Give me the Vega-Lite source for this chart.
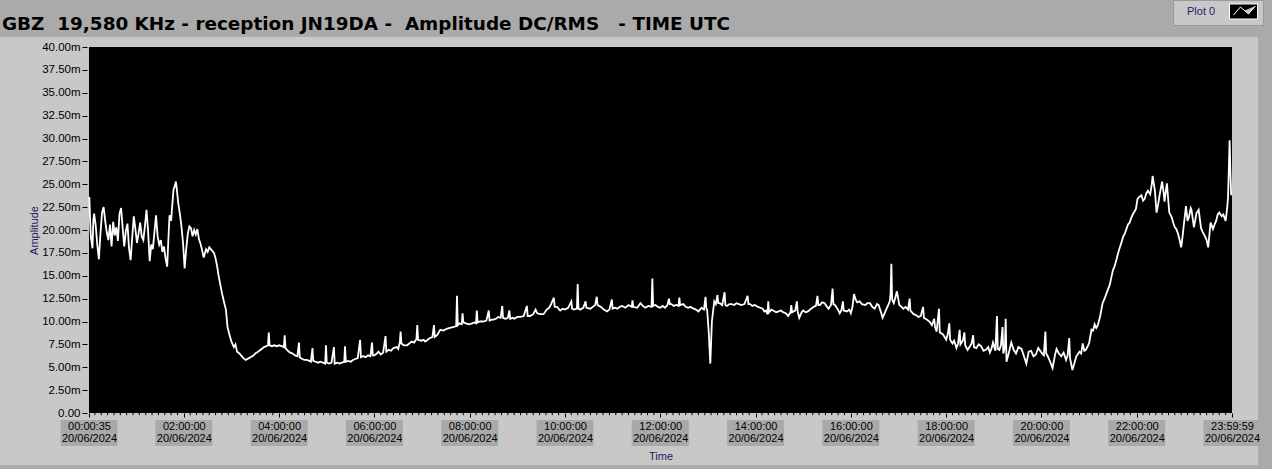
{
  "$schema": "https://vega.github.io/schema/vega-lite/v6.json",
  "width": 1143,
  "height": 366,
  "autosize": {"type": "none"},
  "padding": {"left": 89, "top": 47, "right": 40, "bottom": 56},
  "background": "#aaaaaa",
  "config": {"view": {"stroke": null}, "axis": {"grid": false}},
  "title": {
    "text": "GBZ\u00a0 19,580 KHz - reception JN19DA -\u00a0 Amplitude DC/RMS\u00a0\u00a0 - TIME UTC",
    "anchor": "start", "frame": "group", "font": "DejaVu Sans", "fontSize": 18.4, "fontWeight": "bold",
    "color": "#000000", "dx": -87, "offset": -49, "baseline": "alphabetic", "zindex": 1
  },
  "datasets": {
    "ticks": [
      {"t": "2024-06-20T00:00:35"}, {"t": "2024-06-20T02:00:00"}, {"t": "2024-06-20T04:00:00"},
      {"t": "2024-06-20T06:00:00"}, {"t": "2024-06-20T08:00:00"}, {"t": "2024-06-20T10:00:00"},
      {"t": "2024-06-20T12:00:00"}, {"t": "2024-06-20T14:00:00"}, {"t": "2024-06-20T16:00:00"},
      {"t": "2024-06-20T18:00:00"}, {"t": "2024-06-20T20:00:00"}, {"t": "2024-06-20T22:00:00"},
      {"t": "2024-06-20T23:59:59"}
    ],
    "minor": [
      {"t":"2024-06-20T00:08"},{"t":"2024-06-20T00:16"},{"t":"2024-06-20T00:24"},{"t":"2024-06-20T00:32"},{"t":"2024-06-20T00:40"},{"t":"2024-06-20T00:48"},{"t":"2024-06-20T00:56"},{"t":"2024-06-20T01:04"},{"t":"2024-06-20T01:12"},{"t":"2024-06-20T01:20"},{"t":"2024-06-20T01:28"},{"t":"2024-06-20T01:36"},{"t":"2024-06-20T01:44"},{"t":"2024-06-20T01:52"},
      {"t":"2024-06-20T02:08"},{"t":"2024-06-20T02:16"},{"t":"2024-06-20T02:24"},{"t":"2024-06-20T02:32"},{"t":"2024-06-20T02:40"},{"t":"2024-06-20T02:48"},{"t":"2024-06-20T02:56"},{"t":"2024-06-20T03:04"},{"t":"2024-06-20T03:12"},{"t":"2024-06-20T03:20"},{"t":"2024-06-20T03:28"},{"t":"2024-06-20T03:36"},{"t":"2024-06-20T03:44"},{"t":"2024-06-20T03:52"},
      {"t":"2024-06-20T04:08"},{"t":"2024-06-20T04:16"},{"t":"2024-06-20T04:24"},{"t":"2024-06-20T04:32"},{"t":"2024-06-20T04:40"},{"t":"2024-06-20T04:48"},{"t":"2024-06-20T04:56"},{"t":"2024-06-20T05:04"},{"t":"2024-06-20T05:12"},{"t":"2024-06-20T05:20"},{"t":"2024-06-20T05:28"},{"t":"2024-06-20T05:36"},{"t":"2024-06-20T05:44"},{"t":"2024-06-20T05:52"},
      {"t":"2024-06-20T06:08"},{"t":"2024-06-20T06:16"},{"t":"2024-06-20T06:24"},{"t":"2024-06-20T06:32"},{"t":"2024-06-20T06:40"},{"t":"2024-06-20T06:48"},{"t":"2024-06-20T06:56"},{"t":"2024-06-20T07:04"},{"t":"2024-06-20T07:12"},{"t":"2024-06-20T07:20"},{"t":"2024-06-20T07:28"},{"t":"2024-06-20T07:36"},{"t":"2024-06-20T07:44"},{"t":"2024-06-20T07:52"},
      {"t":"2024-06-20T08:08"},{"t":"2024-06-20T08:16"},{"t":"2024-06-20T08:24"},{"t":"2024-06-20T08:32"},{"t":"2024-06-20T08:40"},{"t":"2024-06-20T08:48"},{"t":"2024-06-20T08:56"},{"t":"2024-06-20T09:04"},{"t":"2024-06-20T09:12"},{"t":"2024-06-20T09:20"},{"t":"2024-06-20T09:28"},{"t":"2024-06-20T09:36"},{"t":"2024-06-20T09:44"},{"t":"2024-06-20T09:52"},
      {"t":"2024-06-20T10:08"},{"t":"2024-06-20T10:16"},{"t":"2024-06-20T10:24"},{"t":"2024-06-20T10:32"},{"t":"2024-06-20T10:40"},{"t":"2024-06-20T10:48"},{"t":"2024-06-20T10:56"},{"t":"2024-06-20T11:04"},{"t":"2024-06-20T11:12"},{"t":"2024-06-20T11:20"},{"t":"2024-06-20T11:28"},{"t":"2024-06-20T11:36"},{"t":"2024-06-20T11:44"},{"t":"2024-06-20T11:52"},
      {"t":"2024-06-20T12:08"},{"t":"2024-06-20T12:16"},{"t":"2024-06-20T12:24"},{"t":"2024-06-20T12:32"},{"t":"2024-06-20T12:40"},{"t":"2024-06-20T12:48"},{"t":"2024-06-20T12:56"},{"t":"2024-06-20T13:04"},{"t":"2024-06-20T13:12"},{"t":"2024-06-20T13:20"},{"t":"2024-06-20T13:28"},{"t":"2024-06-20T13:36"},{"t":"2024-06-20T13:44"},{"t":"2024-06-20T13:52"},
      {"t":"2024-06-20T14:08"},{"t":"2024-06-20T14:16"},{"t":"2024-06-20T14:24"},{"t":"2024-06-20T14:32"},{"t":"2024-06-20T14:40"},{"t":"2024-06-20T14:48"},{"t":"2024-06-20T14:56"},{"t":"2024-06-20T15:04"},{"t":"2024-06-20T15:12"},{"t":"2024-06-20T15:20"},{"t":"2024-06-20T15:28"},{"t":"2024-06-20T15:36"},{"t":"2024-06-20T15:44"},{"t":"2024-06-20T15:52"},
      {"t":"2024-06-20T16:08"},{"t":"2024-06-20T16:16"},{"t":"2024-06-20T16:24"},{"t":"2024-06-20T16:32"},{"t":"2024-06-20T16:40"},{"t":"2024-06-20T16:48"},{"t":"2024-06-20T16:56"},{"t":"2024-06-20T17:04"},{"t":"2024-06-20T17:12"},{"t":"2024-06-20T17:20"},{"t":"2024-06-20T17:28"},{"t":"2024-06-20T17:36"},{"t":"2024-06-20T17:44"},{"t":"2024-06-20T17:52"},
      {"t":"2024-06-20T18:08"},{"t":"2024-06-20T18:16"},{"t":"2024-06-20T18:24"},{"t":"2024-06-20T18:32"},{"t":"2024-06-20T18:40"},{"t":"2024-06-20T18:48"},{"t":"2024-06-20T18:56"},{"t":"2024-06-20T19:04"},{"t":"2024-06-20T19:12"},{"t":"2024-06-20T19:20"},{"t":"2024-06-20T19:28"},{"t":"2024-06-20T19:36"},{"t":"2024-06-20T19:44"},{"t":"2024-06-20T19:52"},
      {"t":"2024-06-20T20:08"},{"t":"2024-06-20T20:16"},{"t":"2024-06-20T20:24"},{"t":"2024-06-20T20:32"},{"t":"2024-06-20T20:40"},{"t":"2024-06-20T20:48"},{"t":"2024-06-20T20:56"},{"t":"2024-06-20T21:04"},{"t":"2024-06-20T21:12"},{"t":"2024-06-20T21:20"},{"t":"2024-06-20T21:28"},{"t":"2024-06-20T21:36"},{"t":"2024-06-20T21:44"},{"t":"2024-06-20T21:52"},
      {"t":"2024-06-20T22:08"},{"t":"2024-06-20T22:16"},{"t":"2024-06-20T22:24"},{"t":"2024-06-20T22:32"},{"t":"2024-06-20T22:40"},{"t":"2024-06-20T22:48"},{"t":"2024-06-20T22:56"},{"t":"2024-06-20T23:04"},{"t":"2024-06-20T23:12"},{"t":"2024-06-20T23:20"},{"t":"2024-06-20T23:28"},{"t":"2024-06-20T23:36"},{"t":"2024-06-20T23:44"},{"t":"2024-06-20T23:52"}
    ],
    "series": [
      {"t":"2024-06-20T00:01","v":23.6},{"t":"2024-06-20T00:02","v":21.0},{"t":"2024-06-20T00:03","v":19.2},{"t":"2024-06-20T00:05","v":18.0},{"t":"2024-06-20T00:06","v":21.0},{"t":"2024-06-20T00:07","v":21.8},{"t":"2024-06-20T00:09","v":20.5},{"t":"2024-06-20T00:11","v":18.4},{"t":"2024-06-20T00:13","v":16.8},{"t":"2024-06-20T00:15","v":19.6},{"t":"2024-06-20T00:17","v":21.9},{"t":"2024-06-20T00:19","v":22.5},{"t":"2024-06-20T00:21","v":21.0},{"t":"2024-06-20T00:23","v":19.7},{"t":"2024-06-20T00:25","v":18.9},{"t":"2024-06-20T00:27","v":20.6},{"t":"2024-06-20T00:29","v":18.2},{"t":"2024-06-20T00:31","v":20.9},{"t":"2024-06-20T00:33","v":19.4},{"t":"2024-06-20T00:35","v":20.3},{"t":"2024-06-20T00:37","v":18.8},{"t":"2024-06-20T00:39","v":21.8},{"t":"2024-06-20T00:41","v":22.4},{"t":"2024-06-20T00:43","v":20.2},{"t":"2024-06-20T00:45","v":18.2},{"t":"2024-06-20T00:47","v":19.9},{"t":"2024-06-20T00:49","v":20.7},{"t":"2024-06-20T00:51","v":18.0},{"t":"2024-06-20T00:53","v":16.7},{"t":"2024-06-20T00:55","v":19.2},{"t":"2024-06-20T00:57","v":21.5},{"t":"2024-06-20T00:59","v":20.1},
      {"t":"2024-06-20T01:01","v":18.6},{"t":"2024-06-20T01:03","v":19.6},{"t":"2024-06-20T01:05","v":20.8},{"t":"2024-06-20T01:07","v":19.3},{"t":"2024-06-20T01:09","v":18.9},{"t":"2024-06-20T01:11","v":20.4},{"t":"2024-06-20T01:13","v":22.2},{"t":"2024-06-20T01:15","v":19.9},{"t":"2024-06-20T01:17","v":16.6},{"t":"2024-06-20T01:19","v":18.4},{"t":"2024-06-20T01:21","v":17.9},{"t":"2024-06-20T01:23","v":19.8},{"t":"2024-06-20T01:25","v":21.6},{"t":"2024-06-20T01:27","v":19.3},{"t":"2024-06-20T01:29","v":18.4},{"t":"2024-06-20T01:31","v":18.9},{"t":"2024-06-20T01:33","v":17.6},{"t":"2024-06-20T01:35","v":18.2},{"t":"2024-06-20T01:37","v":16.9},{"t":"2024-06-20T01:39","v":16.0},{"t":"2024-06-20T01:41","v":19.8},{"t":"2024-06-20T01:42","v":21.6},{"t":"2024-06-20T01:44","v":21.0},{"t":"2024-06-20T01:45","v":22.2},{"t":"2024-06-20T01:47","v":24.4},{"t":"2024-06-20T01:49","v":24.9},{"t":"2024-06-20T01:50","v":25.3},{"t":"2024-06-20T01:51","v":24.6},{"t":"2024-06-20T01:53","v":22.9},{"t":"2024-06-20T01:55","v":21.8},{"t":"2024-06-20T01:57","v":20.4},{"t":"2024-06-20T01:59","v":18.6},
      {"t":"2024-06-20T02:01","v":15.8},{"t":"2024-06-20T02:03","v":17.9},{"t":"2024-06-20T02:05","v":19.6},{"t":"2024-06-20T02:07","v":20.4},{"t":"2024-06-20T02:09","v":20.2},{"t":"2024-06-20T02:11","v":19.3},{"t":"2024-06-20T02:13","v":20.0},{"t":"2024-06-20T02:15","v":19.5},{"t":"2024-06-20T02:17","v":20.1},{"t":"2024-06-20T02:19","v":19.0},{"t":"2024-06-20T02:21","v":18.5},{"t":"2024-06-20T02:23","v":17.8},{"t":"2024-06-20T02:25","v":17.0},{"t":"2024-06-20T02:27","v":17.6},{"t":"2024-06-20T02:28","v":17.9},{"t":"2024-06-20T02:30","v":17.6},{"t":"2024-06-20T02:32","v":18.1},{"t":"2024-06-20T02:35","v":17.8},{"t":"2024-06-20T02:38","v":17.5},{"t":"2024-06-20T02:40","v":16.9},{"t":"2024-06-20T02:42","v":16.0},{"t":"2024-06-20T02:44","v":14.9},{"t":"2024-06-20T02:46","v":14.0},{"t":"2024-06-20T02:48","v":13.1},{"t":"2024-06-20T02:51","v":12.0},{"t":"2024-06-20T02:53","v":11.3},{"t":"2024-06-20T02:55","v":9.4},{"t":"2024-06-20T02:57","v":8.7},
      {"t":"2024-06-20T03:00","v":7.8},{"t":"2024-06-20T03:03","v":7.2},{"t":"2024-06-20T03:05","v":7.5},{"t":"2024-06-20T03:07","v":6.7},{"t":"2024-06-20T03:10","v":6.5},{"t":"2024-06-20T03:12","v":6.3},{"t":"2024-06-20T03:15","v":6.0},{"t":"2024-06-20T03:18","v":5.8},{"t":"2024-06-20T03:20","v":5.9},{"t":"2024-06-20T03:22","v":6.0},{"t":"2024-06-20T03:24","v":6.1},{"t":"2024-06-20T03:26","v":6.2},{"t":"2024-06-20T03:28","v":6.3},{"t":"2024-06-20T03:30","v":6.5},{"t":"2024-06-20T03:32","v":6.6},{"t":"2024-06-20T03:35","v":6.8},{"t":"2024-06-20T03:38","v":7.0},{"t":"2024-06-20T03:41","v":7.2},{"t":"2024-06-20T03:44","v":7.3},{"t":"2024-06-20T03:46","v":7.4},{"t":"2024-06-20T03:47","v":8.8},{"t":"2024-06-20T03:48","v":7.4},{"t":"2024-06-20T03:51","v":7.3},{"t":"2024-06-20T03:54","v":7.4},{"t":"2024-06-20T03:57","v":7.3},
      {"t":"2024-06-20T04:00","v":7.4},{"t":"2024-06-20T04:03","v":7.3},{"t":"2024-06-20T04:06","v":7.2},{"t":"2024-06-20T04:07","v":8.5},{"t":"2024-06-20T04:08","v":7.1},{"t":"2024-06-20T04:11","v":6.8},{"t":"2024-06-20T04:14","v":6.6},{"t":"2024-06-20T04:17","v":6.5},{"t":"2024-06-20T04:20","v":6.3},{"t":"2024-06-20T04:23","v":6.2},{"t":"2024-06-20T04:25","v":7.7},{"t":"2024-06-20T04:26","v":6.1},{"t":"2024-06-20T04:29","v":5.9},{"t":"2024-06-20T04:32","v":5.8},{"t":"2024-06-20T04:35","v":5.8},{"t":"2024-06-20T04:38","v":5.7},{"t":"2024-06-20T04:40","v":5.6},{"t":"2024-06-20T04:42","v":7.1},{"t":"2024-06-20T04:43","v":5.7},{"t":"2024-06-20T04:46","v":5.6},{"t":"2024-06-20T04:49","v":5.5},{"t":"2024-06-20T04:52","v":5.6},{"t":"2024-06-20T04:55","v":5.5},{"t":"2024-06-20T04:58","v":5.4},{"t":"2024-06-20T04:59","v":7.4},
      {"t":"2024-06-20T05:00","v":5.5},{"t":"2024-06-20T05:03","v":5.4},{"t":"2024-06-20T05:06","v":5.5},{"t":"2024-06-20T05:09","v":7.2},{"t":"2024-06-20T05:10","v":5.4},{"t":"2024-06-20T05:13","v":5.5},{"t":"2024-06-20T05:16","v":5.4},{"t":"2024-06-20T05:19","v":5.5},{"t":"2024-06-20T05:22","v":5.6},{"t":"2024-06-20T05:23","v":7.3},{"t":"2024-06-20T05:24","v":5.6},{"t":"2024-06-20T05:27","v":5.7},{"t":"2024-06-20T05:30","v":5.6},{"t":"2024-06-20T05:33","v":5.8},{"t":"2024-06-20T05:36","v":5.9},{"t":"2024-06-20T05:39","v":6.0},{"t":"2024-06-20T05:42","v":8.0},{"t":"2024-06-20T05:43","v":6.1},{"t":"2024-06-20T05:46","v":6.2},{"t":"2024-06-20T05:49","v":6.1},{"t":"2024-06-20T05:52","v":6.3},{"t":"2024-06-20T05:55","v":6.2},{"t":"2024-06-20T05:57","v":7.7},{"t":"2024-06-20T05:58","v":6.3},
      {"t":"2024-06-20T06:00","v":6.3},{"t":"2024-06-20T06:03","v":6.5},{"t":"2024-06-20T06:05","v":6.7},{"t":"2024-06-20T06:08","v":6.4},{"t":"2024-06-20T06:11","v":6.6},{"t":"2024-06-20T06:14","v":8.4},{"t":"2024-06-20T06:15","v":6.7},{"t":"2024-06-20T06:18","v":6.9},{"t":"2024-06-20T06:21","v":6.8},{"t":"2024-06-20T06:24","v":7.1},{"t":"2024-06-20T06:28","v":7.2},{"t":"2024-06-20T06:30","v":7.0},{"t":"2024-06-20T06:32","v":7.7},{"t":"2024-06-20T06:33","v":8.9},{"t":"2024-06-20T06:34","v":7.6},{"t":"2024-06-20T06:37","v":7.4},{"t":"2024-06-20T06:41","v":7.4},{"t":"2024-06-20T06:44","v":7.6},{"t":"2024-06-20T06:47","v":7.8},{"t":"2024-06-20T06:50","v":7.7},{"t":"2024-06-20T06:53","v":8.1},{"t":"2024-06-20T06:54","v":9.6},{"t":"2024-06-20T06:55","v":8.0},{"t":"2024-06-20T06:59","v":7.9},
      {"t":"2024-06-20T07:02","v":8.0},{"t":"2024-06-20T07:04","v":7.8},{"t":"2024-06-20T07:07","v":8.0},{"t":"2024-06-20T07:10","v":8.2},{"t":"2024-06-20T07:13","v":8.3},{"t":"2024-06-20T07:15","v":9.6},{"t":"2024-06-20T07:16","v":8.3},{"t":"2024-06-20T07:19","v":8.5},{"t":"2024-06-20T07:23","v":9.1},{"t":"2024-06-20T07:27","v":9.0},{"t":"2024-06-20T07:31","v":9.2},{"t":"2024-06-20T07:35","v":9.3},{"t":"2024-06-20T07:40","v":9.4},{"t":"2024-06-20T07:43","v":9.5},{"t":"2024-06-20T07:44","v":12.8},{"t":"2024-06-20T07:45","v":9.6},{"t":"2024-06-20T07:47","v":9.8},{"t":"2024-06-20T07:50","v":9.7},{"t":"2024-06-20T07:51","v":10.9},{"t":"2024-06-20T07:52","v":9.9},{"t":"2024-06-20T07:55","v":9.8},{"t":"2024-06-20T07:59","v":9.7},
      {"t":"2024-06-20T08:03","v":9.8},{"t":"2024-06-20T08:06","v":9.9},{"t":"2024-06-20T08:08","v":9.8},{"t":"2024-06-20T08:09","v":11.2},{"t":"2024-06-20T08:10","v":9.9},{"t":"2024-06-20T08:13","v":10.0},{"t":"2024-06-20T08:17","v":10.0},{"t":"2024-06-20T08:21","v":10.1},{"t":"2024-06-20T08:24","v":11.2},{"t":"2024-06-20T08:25","v":10.1},{"t":"2024-06-20T08:28","v":10.2},{"t":"2024-06-20T08:30","v":10.2},{"t":"2024-06-20T08:33","v":10.3},{"t":"2024-06-20T08:36","v":10.5},{"t":"2024-06-20T08:39","v":10.4},{"t":"2024-06-20T08:41","v":11.7},{"t":"2024-06-20T08:42","v":10.4},{"t":"2024-06-20T08:45","v":10.3},{"t":"2024-06-20T08:48","v":10.4},{"t":"2024-06-20T08:50","v":11.2},{"t":"2024-06-20T08:51","v":10.3},{"t":"2024-06-20T08:54","v":10.4},{"t":"2024-06-20T08:56","v":10.3},
      {"t":"2024-06-20T09:00","v":10.5},{"t":"2024-06-20T09:04","v":10.5},{"t":"2024-06-20T09:08","v":10.6},{"t":"2024-06-20T09:12","v":11.7},{"t":"2024-06-20T09:13","v":10.6},{"t":"2024-06-20T09:16","v":10.6},{"t":"2024-06-20T09:20","v":10.8},{"t":"2024-06-20T09:23","v":11.3},{"t":"2024-06-20T09:25","v":10.9},{"t":"2024-06-20T09:29","v":10.8},{"t":"2024-06-20T09:33","v":10.8},{"t":"2024-06-20T09:37","v":11.3},{"t":"2024-06-20T09:40","v":11.5},{"t":"2024-06-20T09:42","v":11.8},{"t":"2024-06-20T09:46","v":12.6},{"t":"2024-06-20T09:47","v":11.6},{"t":"2024-06-20T09:50","v":11.6},{"t":"2024-06-20T09:54","v":11.2},{"t":"2024-06-20T09:57","v":11.4},
      {"t":"2024-06-20T10:00","v":11.3},{"t":"2024-06-20T10:04","v":11.5},{"t":"2024-06-20T10:08","v":12.2},{"t":"2024-06-20T10:09","v":11.4},{"t":"2024-06-20T10:11","v":11.3},{"t":"2024-06-20T10:15","v":11.4},{"t":"2024-06-20T10:16","v":14.1},{"t":"2024-06-20T10:17","v":11.4},{"t":"2024-06-20T10:19","v":11.3},{"t":"2024-06-20T10:23","v":11.5},{"t":"2024-06-20T10:26","v":12.2},{"t":"2024-06-20T10:27","v":11.5},{"t":"2024-06-20T10:32","v":11.4},{"t":"2024-06-20T10:35","v":11.6},{"t":"2024-06-20T10:38","v":11.8},{"t":"2024-06-20T10:40","v":12.7},{"t":"2024-06-20T10:41","v":11.8},{"t":"2024-06-20T10:45","v":11.6},{"t":"2024-06-20T10:49","v":11.3},{"t":"2024-06-20T10:53","v":11.1},{"t":"2024-06-20T10:56","v":11.3},{"t":"2024-06-20T10:59","v":12.4},
      {"t":"2024-06-20T11:00","v":11.4},{"t":"2024-06-20T11:03","v":11.5},{"t":"2024-06-20T11:06","v":11.4},{"t":"2024-06-20T11:09","v":11.6},{"t":"2024-06-20T11:12","v":11.7},{"t":"2024-06-20T11:16","v":11.5},{"t":"2024-06-20T11:20","v":11.8},{"t":"2024-06-20T11:24","v":11.6},{"t":"2024-06-20T11:25","v":12.3},{"t":"2024-06-20T11:26","v":11.6},{"t":"2024-06-20T11:31","v":11.5},{"t":"2024-06-20T11:35","v":12.0},{"t":"2024-06-20T11:38","v":11.7},{"t":"2024-06-20T11:41","v":11.5},{"t":"2024-06-20T11:45","v":11.7},{"t":"2024-06-20T11:49","v":11.6},{"t":"2024-06-20T11:50","v":14.7},{"t":"2024-06-20T11:51","v":11.7},{"t":"2024-06-20T11:54","v":11.8},{"t":"2024-06-20T11:57","v":11.6},
      {"t":"2024-06-20T12:00","v":11.5},{"t":"2024-06-20T12:03","v":11.7},{"t":"2024-06-20T12:06","v":11.5},{"t":"2024-06-20T12:09","v":11.8},{"t":"2024-06-20T12:11","v":12.5},{"t":"2024-06-20T12:12","v":11.9},{"t":"2024-06-20T12:14","v":11.9},{"t":"2024-06-20T12:17","v":11.7},{"t":"2024-06-20T12:20","v":11.8},{"t":"2024-06-20T12:23","v":11.7},{"t":"2024-06-20T12:24","v":12.6},{"t":"2024-06-20T12:25","v":11.8},{"t":"2024-06-20T12:29","v":11.9},{"t":"2024-06-20T12:32","v":11.6},{"t":"2024-06-20T12:35","v":11.5},{"t":"2024-06-20T12:38","v":11.6},{"t":"2024-06-20T12:42","v":11.4},{"t":"2024-06-20T12:45","v":11.3},{"t":"2024-06-20T12:48","v":11.1},{"t":"2024-06-20T12:52","v":11.5},{"t":"2024-06-20T12:55","v":11.3},{"t":"2024-06-20T12:57","v":12.7},{"t":"2024-06-20T12:58","v":11.4},{"t":"2024-06-20T12:59","v":11.3},
      {"t":"2024-06-20T13:01","v":8.9},{"t":"2024-06-20T13:03","v":5.4},{"t":"2024-06-20T13:05","v":10.0},{"t":"2024-06-20T13:08","v":12.2},{"t":"2024-06-20T13:10","v":11.9},{"t":"2024-06-20T13:12","v":12.9},{"t":"2024-06-20T13:13","v":12.0},{"t":"2024-06-20T13:15","v":12.0},{"t":"2024-06-20T13:18","v":11.8},{"t":"2024-06-20T13:21","v":13.2},{"t":"2024-06-20T13:22","v":11.8},{"t":"2024-06-20T13:24","v":11.7},{"t":"2024-06-20T13:27","v":11.9},{"t":"2024-06-20T13:30","v":11.9},{"t":"2024-06-20T13:33","v":11.8},{"t":"2024-06-20T13:36","v":12.0},{"t":"2024-06-20T13:39","v":11.9},{"t":"2024-06-20T13:42","v":11.8},{"t":"2024-06-20T13:46","v":11.9},{"t":"2024-06-20T13:50","v":12.8},{"t":"2024-06-20T13:51","v":11.9},{"t":"2024-06-20T13:53","v":11.9},{"t":"2024-06-20T13:56","v":11.7},{"t":"2024-06-20T13:59","v":11.8},
      {"t":"2024-06-20T14:03","v":11.6},{"t":"2024-06-20T14:06","v":11.5},{"t":"2024-06-20T14:09","v":11.4},{"t":"2024-06-20T14:11","v":11.1},{"t":"2024-06-20T14:13","v":11.2},{"t":"2024-06-20T14:15","v":10.8},{"t":"2024-06-20T14:16","v":12.2},{"t":"2024-06-20T14:17","v":11.0},{"t":"2024-06-20T14:20","v":11.3},{"t":"2024-06-20T14:22","v":11.2},{"t":"2024-06-20T14:26","v":11.0},{"t":"2024-06-20T14:29","v":11.1},{"t":"2024-06-20T14:32","v":11.2},{"t":"2024-06-20T14:35","v":11.0},{"t":"2024-06-20T14:38","v":10.9},{"t":"2024-06-20T14:41","v":10.6},{"t":"2024-06-20T14:44","v":11.0},{"t":"2024-06-20T14:45","v":11.8},{"t":"2024-06-20T14:46","v":11.0},{"t":"2024-06-20T14:50","v":11.2},{"t":"2024-06-20T14:52","v":12.2},{"t":"2024-06-20T14:53","v":11.1},{"t":"2024-06-20T14:55","v":10.4},{"t":"2024-06-20T14:58","v":11.0},
      {"t":"2024-06-20T15:00","v":11.2},{"t":"2024-06-20T15:03","v":11.0},{"t":"2024-06-20T15:06","v":11.1},{"t":"2024-06-20T15:10","v":11.4},{"t":"2024-06-20T15:13","v":11.6},{"t":"2024-06-20T15:16","v":11.7},{"t":"2024-06-20T15:18","v":12.8},{"t":"2024-06-20T15:19","v":11.8},{"t":"2024-06-20T15:21","v":11.8},{"t":"2024-06-20T15:24","v":12.1},{"t":"2024-06-20T15:27","v":12.0},{"t":"2024-06-20T15:30","v":11.6},{"t":"2024-06-20T15:32","v":11.4},{"t":"2024-06-20T15:35","v":11.8},{"t":"2024-06-20T15:37","v":13.6},{"t":"2024-06-20T15:38","v":11.9},{"t":"2024-06-20T15:40","v":11.8},{"t":"2024-06-20T15:43","v":11.4},{"t":"2024-06-20T15:46","v":10.9},{"t":"2024-06-20T15:48","v":11.2},{"t":"2024-06-20T15:50","v":12.2},{"t":"2024-06-20T15:51","v":11.2},{"t":"2024-06-20T15:55","v":11.1},{"t":"2024-06-20T15:58","v":11.3},
      {"t":"2024-06-20T16:00","v":10.9},{"t":"2024-06-20T16:02","v":11.6},{"t":"2024-06-20T16:04","v":13.0},{"t":"2024-06-20T16:06","v":12.4},{"t":"2024-06-20T16:08","v":12.1},{"t":"2024-06-20T16:11","v":12.2},{"t":"2024-06-20T16:14","v":11.9},{"t":"2024-06-20T16:18","v":11.8},{"t":"2024-06-20T16:21","v":12.0},{"t":"2024-06-20T16:24","v":12.0},{"t":"2024-06-20T16:27","v":11.6},{"t":"2024-06-20T16:30","v":11.4},{"t":"2024-06-20T16:33","v":11.9},{"t":"2024-06-20T16:35","v":11.8},{"t":"2024-06-20T16:38","v":11.0},{"t":"2024-06-20T16:40","v":10.4},{"t":"2024-06-20T16:43","v":11.0},{"t":"2024-06-20T16:45","v":11.4},{"t":"2024-06-20T16:47","v":11.8},{"t":"2024-06-20T16:49","v":12.2},{"t":"2024-06-20T16:50","v":13.0},{"t":"2024-06-20T16:51","v":16.3},{"t":"2024-06-20T16:52","v":12.4},{"t":"2024-06-20T16:54","v":12.0},{"t":"2024-06-20T16:56","v":12.6},{"t":"2024-06-20T16:58","v":13.3},
      {"t":"2024-06-20T17:00","v":12.3},{"t":"2024-06-20T17:01","v":11.8},{"t":"2024-06-20T17:04","v":11.6},{"t":"2024-06-20T17:06","v":11.4},{"t":"2024-06-20T17:09","v":11.6},{"t":"2024-06-20T17:12","v":11.3},{"t":"2024-06-20T17:14","v":12.5},{"t":"2024-06-20T17:15","v":11.2},{"t":"2024-06-20T17:17","v":11.0},{"t":"2024-06-20T17:19","v":10.8},{"t":"2024-06-20T17:22","v":10.7},{"t":"2024-06-20T17:25","v":10.5},{"t":"2024-06-20T17:28","v":10.6},{"t":"2024-06-20T17:31","v":11.6},{"t":"2024-06-20T17:32","v":10.4},{"t":"2024-06-20T17:34","v":10.3},{"t":"2024-06-20T17:36","v":10.2},{"t":"2024-06-20T17:39","v":10.0},{"t":"2024-06-20T17:42","v":9.6},{"t":"2024-06-20T17:45","v":10.3},{"t":"2024-06-20T17:46","v":9.4},{"t":"2024-06-20T17:48","v":8.9},{"t":"2024-06-20T17:51","v":11.4},{"t":"2024-06-20T17:52","v":8.8},{"t":"2024-06-20T17:54","v":8.7},{"t":"2024-06-20T17:56","v":8.6},{"t":"2024-06-20T17:58","v":8.3},
      {"t":"2024-06-20T18:00","v":8.0},{"t":"2024-06-20T18:02","v":8.6},{"t":"2024-06-20T18:04","v":9.8},{"t":"2024-06-20T18:05","v":8.0},{"t":"2024-06-20T18:08","v":7.6},{"t":"2024-06-20T18:10","v":7.9},{"t":"2024-06-20T18:13","v":7.1},{"t":"2024-06-20T18:15","v":7.6},{"t":"2024-06-20T18:17","v":9.1},{"t":"2024-06-20T18:18","v":7.5},{"t":"2024-06-20T18:21","v":7.9},{"t":"2024-06-20T18:23","v":8.8},{"t":"2024-06-20T18:24","v":7.4},{"t":"2024-06-20T18:27","v":6.9},{"t":"2024-06-20T18:30","v":7.3},{"t":"2024-06-20T18:32","v":7.6},{"t":"2024-06-20T18:34","v":8.5},{"t":"2024-06-20T18:35","v":7.2},{"t":"2024-06-20T18:38","v":7.1},{"t":"2024-06-20T18:41","v":7.5},{"t":"2024-06-20T18:44","v":7.3},{"t":"2024-06-20T18:47","v":6.8},{"t":"2024-06-20T18:50","v":6.9},{"t":"2024-06-20T18:53","v":7.2},{"t":"2024-06-20T18:55","v":6.6},{"t":"2024-06-20T18:57","v":7.0},{"t":"2024-06-20T18:59","v":7.7},
      {"t":"2024-06-20T19:02","v":6.8},{"t":"2024-06-20T19:04","v":10.6},{"t":"2024-06-20T19:05","v":7.0},{"t":"2024-06-20T19:07","v":6.9},{"t":"2024-06-20T19:09","v":7.4},{"t":"2024-06-20T19:11","v":9.4},{"t":"2024-06-20T19:12","v":6.5},{"t":"2024-06-20T19:14","v":7.2},{"t":"2024-06-20T19:15","v":10.3},{"t":"2024-06-20T19:16","v":5.6},{"t":"2024-06-20T19:19","v":6.6},{"t":"2024-06-20T19:22","v":7.7},{"t":"2024-06-20T19:25","v":6.9},{"t":"2024-06-20T19:28","v":6.5},{"t":"2024-06-20T19:31","v":7.2},{"t":"2024-06-20T19:35","v":7.0},{"t":"2024-06-20T19:38","v":6.2},{"t":"2024-06-20T19:41","v":5.4},{"t":"2024-06-20T19:44","v":6.7},{"t":"2024-06-20T19:47","v":6.8},{"t":"2024-06-20T19:50","v":6.2},{"t":"2024-06-20T19:53","v":6.4},{"t":"2024-06-20T19:56","v":7.1},
      {"t":"2024-06-20T20:00","v":6.6},{"t":"2024-06-20T20:03","v":6.3},{"t":"2024-06-20T20:05","v":8.9},{"t":"2024-06-20T20:06","v":6.5},{"t":"2024-06-20T20:08","v":6.2},{"t":"2024-06-20T20:11","v":5.6},{"t":"2024-06-20T20:14","v":4.9},{"t":"2024-06-20T20:17","v":6.3},{"t":"2024-06-20T20:19","v":7.0},{"t":"2024-06-20T20:22","v":6.5},{"t":"2024-06-20T20:25","v":6.2},{"t":"2024-06-20T20:28","v":6.6},{"t":"2024-06-20T20:31","v":5.8},{"t":"2024-06-20T20:33","v":6.3},{"t":"2024-06-20T20:35","v":8.2},{"t":"2024-06-20T20:36","v":6.0},{"t":"2024-06-20T20:39","v":4.7},{"t":"2024-06-20T20:41","v":5.3},{"t":"2024-06-20T20:44","v":6.2},{"t":"2024-06-20T20:48","v":6.7},{"t":"2024-06-20T20:50","v":6.5},{"t":"2024-06-20T20:52","v":7.6},{"t":"2024-06-20T20:54","v":6.8},{"t":"2024-06-20T20:56","v":6.9},
      {"t":"2024-06-20T21:00","v":7.6},{"t":"2024-06-20T21:03","v":9.1},{"t":"2024-06-20T21:05","v":9.0},{"t":"2024-06-20T21:07","v":9.7},{"t":"2024-06-20T21:09","v":9.3},{"t":"2024-06-20T21:11","v":9.6},{"t":"2024-06-20T21:14","v":10.6},{"t":"2024-06-20T21:17","v":12.0},{"t":"2024-06-20T21:20","v":12.6},{"t":"2024-06-20T21:22","v":13.1},{"t":"2024-06-20T21:26","v":14.0},{"t":"2024-06-20T21:28","v":14.8},{"t":"2024-06-20T21:30","v":15.6},{"t":"2024-06-20T21:32","v":16.0},{"t":"2024-06-20T21:34","v":16.6},{"t":"2024-06-20T21:36","v":17.3},{"t":"2024-06-20T21:38","v":17.9},{"t":"2024-06-20T21:41","v":18.7},{"t":"2024-06-20T21:43","v":19.3},{"t":"2024-06-20T21:45","v":19.6},{"t":"2024-06-20T21:47","v":20.1},{"t":"2024-06-20T21:49","v":20.6},{"t":"2024-06-20T21:51","v":20.8},{"t":"2024-06-20T21:53","v":21.3},{"t":"2024-06-20T21:55","v":21.7},{"t":"2024-06-20T21:57","v":22.0},{"t":"2024-06-20T21:59","v":22.3},
      {"t":"2024-06-20T22:01","v":23.4},{"t":"2024-06-20T22:03","v":23.6},{"t":"2024-06-20T22:06","v":23.8},{"t":"2024-06-20T22:08","v":23.2},{"t":"2024-06-20T22:10","v":23.4},{"t":"2024-06-20T22:12","v":24.0},{"t":"2024-06-20T22:14","v":24.3},{"t":"2024-06-20T22:17","v":23.9},{"t":"2024-06-20T22:19","v":25.0},{"t":"2024-06-20T22:20","v":25.9},{"t":"2024-06-20T22:22","v":24.8},{"t":"2024-06-20T22:23","v":24.2},{"t":"2024-06-20T22:25","v":21.9},{"t":"2024-06-20T22:27","v":22.8},{"t":"2024-06-20T22:29","v":23.9},{"t":"2024-06-20T22:32","v":25.3},{"t":"2024-06-20T22:34","v":24.0},{"t":"2024-06-20T22:35","v":23.1},{"t":"2024-06-20T22:37","v":24.5},{"t":"2024-06-20T22:38","v":25.1},{"t":"2024-06-20T22:41","v":21.9},{"t":"2024-06-20T22:44","v":21.4},{"t":"2024-06-20T22:46","v":20.8},{"t":"2024-06-20T22:48","v":20.3},{"t":"2024-06-20T22:50","v":20.1},{"t":"2024-06-20T22:52","v":19.6},{"t":"2024-06-20T22:54","v":18.9},{"t":"2024-06-20T22:56","v":18.1},{"t":"2024-06-20T22:58","v":19.5},{"t":"2024-06-20T22:59","v":20.3},
      {"t":"2024-06-20T23:02","v":22.6},{"t":"2024-06-20T23:04","v":21.0},{"t":"2024-06-20T23:06","v":21.5},{"t":"2024-06-20T23:08","v":22.4},{"t":"2024-06-20T23:09","v":22.2},{"t":"2024-06-20T23:12","v":20.3},{"t":"2024-06-20T23:14","v":21.2},{"t":"2024-06-20T23:15","v":21.8},{"t":"2024-06-20T23:18","v":22.2},{"t":"2024-06-20T23:21","v":20.2},{"t":"2024-06-20T23:23","v":19.8},{"t":"2024-06-20T23:26","v":19.3},{"t":"2024-06-20T23:28","v":18.9},{"t":"2024-06-20T23:30","v":18.1},{"t":"2024-06-20T23:33","v":20.8},{"t":"2024-06-20T23:36","v":20.1},{"t":"2024-06-20T23:38","v":20.6},{"t":"2024-06-20T23:40","v":21.0},{"t":"2024-06-20T23:42","v":21.7},{"t":"2024-06-20T23:44","v":21.9},{"t":"2024-06-20T23:47","v":21.5},{"t":"2024-06-20T23:49","v":21.7},{"t":"2024-06-20T23:52","v":21.0},{"t":"2024-06-20T23:54","v":22.5},{"t":"2024-06-20T23:55","v":23.6},{"t":"2024-06-20T23:57","v":29.8},{"t":"2024-06-20T23:58","v":26.2},{"t":"2024-06-20T23:59","v":23.8}
    ]
  },
  "layer": [
    {
      "data": {"values": [{"a": 1}]},
      "mark": {"type": "rect", "color": "#c8c8c8"},
      "encoding": {
        "x": {"datum": {"year": 2024, "month": 6, "date": 19, "hours": 22, "minutes": 8, "seconds": 30}, "type": "temporal",
              "scale": {"domain": [{"year": 2024, "month": 6, "date": 20, "hours": 0, "minutes": 0, "seconds": 35}, {"year": 2024, "month": 6, "date": 20, "hours": 23, "minutes": 59, "seconds": 59}], "padding": 0}},
        "x2": {"datum": {"year": 2024, "month": 6, "date": 21, "hours": 0, "minutes": 32, "seconds": 43}},
        "y": {"datum": 41.09, "type": "quantitative", "scale": {"domain": [0, 40], "padding": 0, "nice": false},
              "axis": {
                "values": [0, 2.5, 5, 7.5, 10, 12.5, 15, 17.5, 20, 22.5, 25, 27.5, 30, 32.5, 35, 37.5, 40],
                "labelExpr": "datum.value == 0 ? '0.00' : format(datum.value, '.2f') + 'm'",
                "tickSize": 5, "offset": 2, "labelPadding": 2, "domain": false, "grid": false, "tickColor": "#000000",
                "labelFont": "Liberation Sans", "labelFontSize": 11.5, "labelColor": "#000000", "labelOverlap": false, "labelFlush": false,
                "title": "Amplitude", "titleFont": "Liberation Sans", "titleFontSize": 11, "titleFontWeight": "normal",
                "titleColor": "#1c1c5e", "titleAngle": 270, "titleX": -53, "titleY": 183, "titleAlign": "center", "titleBaseline": "middle",
                "zindex": 1
              }},
        "y2": {"datum": -5.68}
      }
    },
    {
      "data": {"values": [{"a": 1}]},
      "mark": {"type": "rect", "color": "#000000"},
      "encoding": {
        "x": {"datum": {"year": 2024, "month": 6, "date": 20, "hours": 0, "minutes": 0, "seconds": 35}, "type": "temporal"},
        "x2": {"datum": {"year": 2024, "month": 6, "date": 20, "hours": 23, "minutes": 59, "seconds": 59}},
        "y": {"datum": 0, "type": "quantitative",
              "axis": {
                "values": [0, 2.5, 5, 7.5, 10, 12.5, 15, 17.5, 20, 22.5, 25, 27.5, 30, 32.5, 35, 37.5, 40],
                "labelExpr": "datum.value == 0 ? '0.00' : format(datum.value, '.2f') + 'm'",
                "tickSize": 5, "offset": 2, "labelPadding": 2, "domain": false, "grid": false, "tickColor": "#000000",
                "labelFont": "Liberation Sans", "labelFontSize": 11.5, "labelColor": "#000000", "labelOverlap": false, "labelFlush": false,
                "title": "Amplitude", "titleFont": "Liberation Sans", "titleFontSize": 11, "titleFontWeight": "normal",
                "titleColor": "#1c1c5e", "titleAngle": 270, "titleX": -53, "titleY": 183, "titleAlign": "center", "titleBaseline": "middle",
                "zindex": 1
              }},
        "y2": {"datum": 40}
      }
    },
    {
      "data": {"name": "minor"},
      "mark": {"type": "rule", "color": "#000000", "strokeWidth": 1},
      "encoding": {
        "x": {"field": "t", "type": "temporal"},
        "y": {"datum": 0, "type": "quantitative",
              "axis": {
                "values": [0, 2.5, 5, 7.5, 10, 12.5, 15, 17.5, 20, 22.5, 25, 27.5, 30, 32.5, 35, 37.5, 40],
                "labelExpr": "datum.value == 0 ? '0.00' : format(datum.value, '.2f') + 'm'",
                "tickSize": 5, "offset": 2, "labelPadding": 2, "domain": false, "grid": false, "tickColor": "#000000",
                "labelFont": "Liberation Sans", "labelFontSize": 11.5, "labelColor": "#000000", "labelOverlap": false, "labelFlush": false,
                "title": "Amplitude", "titleFont": "Liberation Sans", "titleFontSize": 11, "titleFontWeight": "normal",
                "titleColor": "#1c1c5e", "titleAngle": 270, "titleX": -53, "titleY": 183, "titleAlign": "center", "titleBaseline": "middle",
                "zindex": 1
              }},
        "y2": {"datum": -0.24}
      }
    },
    {
      "data": {"name": "ticks"},
      "mark": {"type": "bar", "color": "#a9a9a9", "width": 57},
      "encoding": {
        "x": {"field": "t", "type": "temporal"},
        "y": {"datum": -0.77, "type": "quantitative",
              "axis": {
                "values": [0, 2.5, 5, 7.5, 10, 12.5, 15, 17.5, 20, 22.5, 25, 27.5, 30, 32.5, 35, 37.5, 40],
                "labelExpr": "datum.value == 0 ? '0.00' : format(datum.value, '.2f') + 'm'",
                "tickSize": 5, "offset": 2, "labelPadding": 2, "domain": false, "grid": false, "tickColor": "#000000",
                "labelFont": "Liberation Sans", "labelFontSize": 11.5, "labelColor": "#000000", "labelOverlap": false, "labelFlush": false,
                "title": "Amplitude", "titleFont": "Liberation Sans", "titleFontSize": 11, "titleFontWeight": "normal",
                "titleColor": "#1c1c5e", "titleAngle": 270, "titleX": -53, "titleY": 183, "titleAlign": "center", "titleBaseline": "middle",
                "zindex": 1
              }},
        "y2": {"datum": -3.61}
      }
    },
    {
      "data": {"name": "series"},
      "mark": {"type": "line", "strokeWidth": 1.8},
      "encoding": {
        "x": {"field": "t", "type": "temporal",
              "axis": {
                "orient": "bottom",
                "values": [
                  {"year": 2024, "month": 6, "date": 20, "hours": 0, "minutes": 0, "seconds": 35},
                  {"year": 2024, "month": 6, "date": 20, "hours": 2}, {"year": 2024, "month": 6, "date": 20, "hours": 4},
                  {"year": 2024, "month": 6, "date": 20, "hours": 6}, {"year": 2024, "month": 6, "date": 20, "hours": 8},
                  {"year": 2024, "month": 6, "date": 20, "hours": 10}, {"year": 2024, "month": 6, "date": 20, "hours": 12},
                  {"year": 2024, "month": 6, "date": 20, "hours": 14}, {"year": 2024, "month": 6, "date": 20, "hours": 16},
                  {"year": 2024, "month": 6, "date": 20, "hours": 18}, {"year": 2024, "month": 6, "date": 20, "hours": 20},
                  {"year": 2024, "month": 6, "date": 20, "hours": 22},
                  {"year": 2024, "month": 6, "date": 20, "hours": 23, "minutes": 59, "seconds": 59}
                ],
                "labelExpr": "[timeFormat(datum.value, '%H:%M:%S'), timeFormat(datum.value, '%d/%m/%Y')]",
                "tickSize": 4, "tickColor": "#000000", "domain": false, "grid": false,
                "labelFont": "Liberation Sans", "labelFontSize": 11, "labelColor": "#000000",
                "labelPadding": 3, "labelLineHeight": 12, "labelFlush": false, "labelOverlap": false, "labelBound": false,
                "title": "Time", "titleFont": "Liberation Sans", "titleFontSize": 11, "titleFontWeight": "normal",
                "titleColor": "#1c1c5e", "titleY": 43, "titleBaseline": "middle", "zindex": 1
              }},
        "y": {"field": "v", "type": "quantitative",
              "axis": {
                "values": [0, 2.5, 5, 7.5, 10, 12.5, 15, 17.5, 20, 22.5, 25, 27.5, 30, 32.5, 35, 37.5, 40],
                "labelExpr": "datum.value == 0 ? '0.00' : format(datum.value, '.2f') + 'm'",
                "tickSize": 5, "offset": 2, "labelPadding": 2, "domain": false, "grid": false, "tickColor": "#000000",
                "labelFont": "Liberation Sans", "labelFontSize": 11.5, "labelColor": "#000000", "labelOverlap": false, "labelFlush": false,
                "title": "Amplitude", "titleFont": "Liberation Sans", "titleFontSize": 11, "titleFontWeight": "normal",
                "titleColor": "#1c1c5e", "titleAngle": 270, "titleX": -53, "titleY": 183, "titleAlign": "center", "titleBaseline": "middle",
                "zindex": 1
              }},
        "stroke": {"datum": "Plot 0", "type": "nominal", "scale": {"range": ["#ffffff"]},
                   "legend": {
                     "orient": "none", "legendX": 1084, "legendY": -47, "title": null,
                     "symbolType": "M-1.75,-0.94H1.75V0.94H-1.75Z M-1.25,0.44L-0.38,-0.56L0.62,0.31L1.5,-0.69",
                     "symbolSize": 256, "symbolOffset": 59, "labelOffset": -65,
                     "labelFont": "Liberation Sans", "labelFontSize": 11, "labelColor": "#1c1c5e",
                     "padding": 3, "fillColor": "#c8c8c8", "strokeColor": "#9a9a9a",
                     "symbolFillColor": "#000000", "symbolStrokeColor": "#ffffff", "symbolStrokeWidth": 1, "zindex": 1
                   }}
      }
    }
  ]
}
